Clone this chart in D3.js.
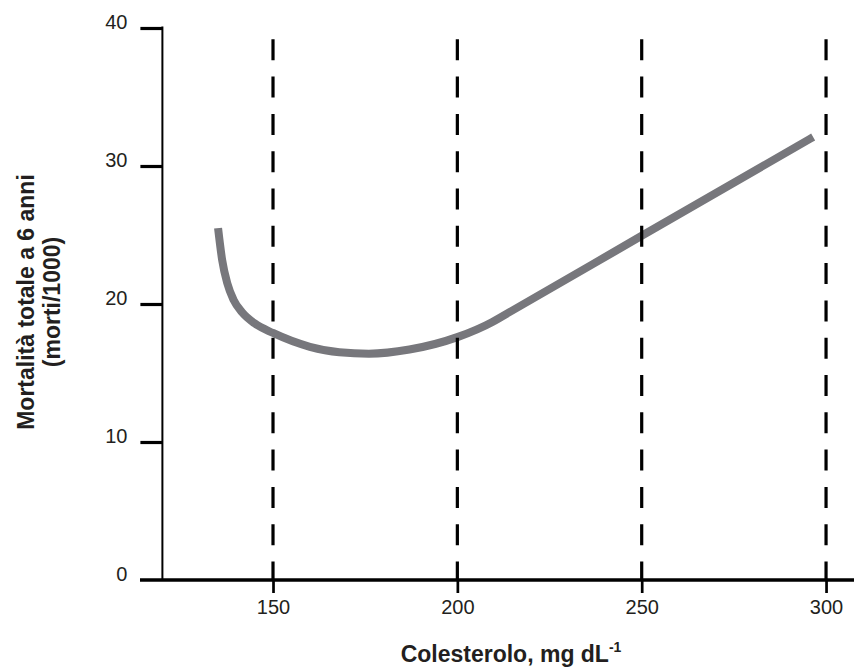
<!DOCTYPE html>
<html>
<head>
<meta charset="utf-8">
<script src="https://cdn.jsdelivr.net/npm/d3@7"></script>
<style>
  body { margin: 0; background: #fff; }
  svg { display: block; font-family: "Liberation Sans", Arial, sans-serif; }
</style>
</head>
<body>
<div id="chart"></div>
<script>
// Data
const cholesterol = [135.1, 136.2, 137.6, 139.3, 141.6, 145, 150, 160, 168, 176, 187, 200, 209.5, 212, 250, 296.5];
const mortality   = [25.5, 23.2, 21.5, 20.3, 19.4, 18.6, 17.9, 16.9, 16.5, 16.4, 16.7, 17.6, 18.7, 19.08, 24.94, 32.1];
const xTicks = [150, 200, 250, 300];
const yTicks = [0, 10, 20, 30, 40];
const guideLines = [150, 200, 250, 300];

const width = 854, height = 668;
const ink = "#231f20";

const svg = d3.select("#chart").append("svg")
    .attr("width", width)
    .attr("height", height);

const x = d3.scaleLinear().domain([120, 307.5]).range([162.4, 853.7]);
const y = d3.scaleLinear().domain([0, 40]).range([580, 28]);

// curve
const line = d3.line()
    .x(d => x(d[0]))
    .y(d => y(d[1]))
    .curve(d3.curveMonotoneX);

svg.append("path")
    .datum(cholesterol.map((c, i) => [c, mortality[i]]))
    .attr("d", line)
    .attr("fill", "none")
    .attr("stroke", "#77777c")
    .attr("stroke-width", 8)
    .attr("stroke-linecap", "butt");

// dashed vertical guides (drawn over the curve)
svg.append("g").selectAll("line")
    .data(guideLines)
    .enter()
    .append("line")
    .attr("x1", d => x(d)).attr("x2", d => x(d))
    .attr("y1", 39.3).attr("y2", y(0))
    .attr("stroke", "#000")
    .attr("stroke-width", 3.2)
    .attr("stroke-dasharray", "21,16.3");

// y axis
const yAxis = svg.append("g")
    .attr("transform", `translate(${x(120)},0)`)
    .call(d3.axisLeft(y).tickValues(yTicks).tickSize(22).tickPadding(13).tickFormat(d3.format("d")));
yAxis.select(".domain").remove();
yAxis.selectAll(".tick line").attr("stroke", "#000").attr("stroke-width", 3.2)
    .filter(d => d === 0).remove();
yAxis.selectAll(".tick text").attr("font-size", 20).attr("fill", ink).attr("dy", "0.02em");
svg.append("line")
    .attr("x1", x(120)).attr("x2", x(120))
    .attr("y1", y(40) - 1.5).attr("y2", y(0))
    .attr("stroke", "#000").attr("stroke-width", 2);

// x axis
const xAxis = svg.append("g")
    .attr("transform", `translate(0,${y(0)})`)
    .call(d3.axisBottom(x).tickValues(xTicks).tickSize(13).tickPadding(7));
xAxis.select(".domain").remove();
xAxis.selectAll(".tick line").attr("stroke", "#000").attr("stroke-width", 2.7);
xAxis.selectAll(".tick text").attr("font-size", 20).attr("fill", ink);
svg.append("line")
    .attr("x1", 140).attr("x2", width)
    .attr("y1", y(0)).attr("y2", y(0))
    .attr("stroke", "#000").attr("stroke-width", 3.5);

// axis titles
const xTitle = svg.append("text")
    .attr("x", 511).attr("y", 662)
    .attr("text-anchor", "middle")
    .attr("font-size", 23).attr("font-weight", "bold").attr("fill", ink);
xTitle.append("tspan").text("Colesterolo, mg dL");
xTitle.append("tspan").attr("dy", -10).attr("font-size", 14).text("-1");

const yTitle = svg.append("text")
    .attr("transform", "translate(0,302) rotate(-90)")
    .attr("text-anchor", "middle")
    .attr("font-size", 23).attr("font-weight", "bold").attr("fill", ink);
yTitle.append("tspan").attr("x", 0).attr("y", 34).text("Mortalità totale a 6 anni");
yTitle.append("tspan").attr("x", 0).attr("y", 60).text("(morti/1000)");
</script>
</body>
</html>
